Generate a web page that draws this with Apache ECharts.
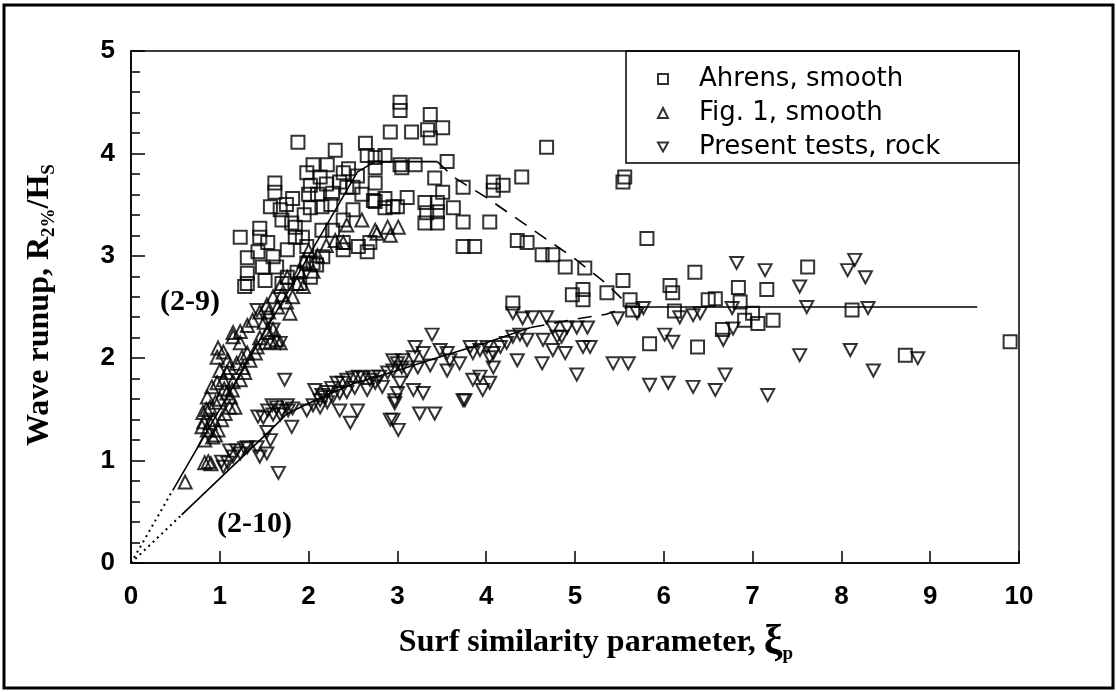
<!DOCTYPE html>
<html><head><meta charset="utf-8">
<script src="https://cdn.jsdelivr.net/npm/echarts@6/dist/echarts.min.js"></script>
<style>html,body{margin:0;padding:0;background:#fff}#c{width:1117px;height:692px}</style>
</head><body><div id="c"></div>
<script>
// ---- data ----
const legendNames = ['Ahrens, smooth', 'Fig. 1, smooth', 'Present tests, rock'];

const ahrensSmooth = [
[1.23,3.18],[1.31,2.98],[1.31,2.83],[1.31,2.73],[1.28,2.70],[1.43,3.04],[1.45,3.27],[1.45,3.18],[1.48,2.89],[1.51,2.76],
[1.54,3.13],[1.57,3.48],[1.60,2.99],[1.62,3.71],[1.62,3.62],[1.64,2.89],[1.68,3.45],[1.70,2.73],[1.70,3.35],[1.75,3.50],
[1.76,3.06],[1.76,2.79],[1.82,3.56],[1.81,3.32],[1.85,3.28],[1.85,3.18],[1.87,2.84],[1.88,4.11],[1.90,2.73],[1.93,3.18],
[1.95,3.40],[1.98,3.81],[1.98,3.09],[1.98,2.93],[2.00,3.60],[2.02,3.69],[2.02,3.47],[2.02,2.79],[2.05,3.89],[2.05,2.93],
[2.09,2.91],[2.10,3.60],[2.13,3.77],[2.15,3.48],[2.15,3.25],[2.16,2.99],[2.20,3.70],[2.21,3.89],[2.25,3.50],[2.27,3.61],
[2.27,3.25],[2.30,4.03],[2.35,3.72],[2.39,3.81],[2.39,3.35],[2.39,3.13],[2.39,3.06],[2.43,3.67],[2.45,3.85],[2.50,3.67],
[2.50,3.45],[2.55,3.78],[2.56,3.09],[2.60,3.60],[2.64,4.10],[2.66,3.98],[2.66,3.04],[2.69,3.13],[2.73,3.54],[2.75,3.96],
[2.75,3.86],[2.75,3.71],[2.75,3.53],[2.86,3.98],[2.86,3.56],[2.86,3.47],[2.92,4.21],[2.95,3.48],[3.00,3.48],[3.03,4.50],
[3.03,4.42],[3.03,3.89],[3.05,3.86],[3.11,3.57],[3.16,4.21],[3.20,3.89],[3.31,3.52],[3.31,3.32],[3.33,3.42],[3.34,4.23],
[3.37,4.38],[3.37,4.15],[3.42,3.76],[3.45,3.52],[3.45,3.43],[3.45,3.32],[3.51,4.25],[3.51,3.62],[3.56,3.92],[3.63,3.47],
[3.74,3.67],[3.74,3.33],[3.74,3.09],[3.87,3.09],[4.04,3.33],[4.08,3.72],[4.08,3.64],[4.19,3.69],[4.40,3.77],[4.35,3.15],
[4.46,3.13],[4.68,4.06],[4.63,3.01],[4.75,3.01],[4.89,2.89],[4.97,2.62],[5.09,2.67],[5.09,2.57],[5.11,2.88],[5.36,2.64],
[5.54,2.76],[5.56,3.77],[5.54,3.72],[5.81,3.17],[4.30,2.54],[5.62,2.57],[5.65,2.47],[5.84,2.14],[6.07,2.71],[6.10,2.64],
[6.12,2.46],[6.35,2.84],[6.38,2.11],[6.50,2.57],[6.58,2.58],[6.66,2.28],[6.84,2.69],[6.86,2.55],[6.91,2.37],[7.00,2.44],
[7.06,2.34],[7.16,2.67],[7.23,2.37],[7.62,2.89],[8.12,2.47],[8.72,2.03],[9.90,2.16]
];

const fig1Smooth = [
[0.61,0.79],[0.83,0.98],[0.87,0.99],[0.90,0.97],[0.80,1.33],[0.86,1.30],[0.89,1.37],[0.92,1.23],[0.83,1.20],[0.98,1.30],
[1.02,1.40],[1.06,1.46],[1.11,1.52],[0.81,1.47],[0.89,1.52],[0.95,1.57],[0.86,1.62],[0.91,1.72],[0.97,1.76],[1.04,1.79],
[1.00,1.88],[1.08,1.86],[1.11,1.91],[0.97,2.01],[1.04,2.06],[1.09,1.98],[0.98,2.10],[1.15,1.77],[1.14,1.69],[1.17,1.52],
[1.08,1.66],[1.15,2.21],[1.23,2.15],[1.31,2.05],[1.25,2.01],[1.19,1.95],[1.26,1.91],[1.34,1.98],[1.40,2.05],[1.42,2.11],
[1.28,1.86],[1.23,1.79],[1.53,2.25],[1.60,2.28],[1.64,2.18],[1.68,2.15],[1.45,2.20],[1.51,2.15],[1.57,2.16],[1.79,2.44],
[1.53,2.52],[1.60,2.60],[1.45,2.45],[1.37,2.37],[1.31,2.32],[1.23,2.26],[1.15,2.25],[1.68,2.70],[1.76,2.79],[1.87,2.73],
[1.94,2.70],[1.70,2.62],[1.75,2.55],[1.82,2.60],[1.90,2.85],[1.95,2.95],[2.00,3.05],[2.05,2.85],[2.10,3.00],[2.20,3.10],
[2.43,3.30],[2.75,3.25],[2.89,3.28],[3.01,3.28],[2.92,3.20],[2.39,3.13],[2.77,3.22],[2.30,3.15],[2.60,3.35],[1.50,2.35],
[1.55,2.45],[1.65,2.50],[0.93,1.40],[0.95,1.25],[1.00,1.60],[1.05,1.70],[0.85,1.50],[0.82,1.38],[1.12,1.62]
];

const presentRock = [
[1.66,0.88],[1.45,1.04],[1.53,1.07],[1.42,1.13],[1.04,0.94],[1.09,0.98],[1.15,1.04],[1.23,1.07],[1.19,1.10],[1.11,1.10],
[1.28,1.12],[1.31,1.13],[1.02,0.99],[1.57,1.20],[1.53,1.28],[1.43,1.43],[1.49,1.42],[1.54,1.49],[1.59,1.54],[1.64,1.52],
[1.70,1.49],[1.76,1.54],[1.68,1.45],[1.60,1.45],[1.81,1.33],[1.77,1.49],[1.82,1.51],[1.73,1.79],[1.98,1.49],[2.05,1.54],
[2.13,1.59],[2.15,1.64],[2.21,1.67],[2.26,1.71],[2.32,1.76],[2.38,1.76],[2.43,1.79],[2.50,1.81],[2.56,1.82],[2.61,1.81],
[2.69,1.79],[2.73,1.82],[2.80,1.82],[2.89,1.86],[2.95,1.88],[3.00,1.95],[3.05,1.91],[2.13,1.52],[2.21,1.57],[2.27,1.62],
[2.35,1.66],[2.43,1.67],[2.52,1.71],[2.47,1.37],[2.55,1.49],[2.35,1.49],[2.66,1.69],[2.75,1.76],[2.83,1.72],[2.95,1.40],
[3.01,1.30],[2.97,1.59],[3.00,1.66],[2.18,1.62],[2.07,1.69],[3.39,2.23],[3.20,2.11],[2.95,1.98],[3.06,1.98],[3.18,2.01],
[3.29,2.05],[3.37,1.93],[3.23,1.91],[3.11,1.88],[3.03,1.76],[3.18,1.69],[3.29,1.66],[2.97,1.56],[3.48,2.08],[3.56,2.05],
[3.59,1.98],[3.56,1.88],[3.70,1.95],[3.82,2.11],[3.85,2.05],[3.93,2.08],[4.01,2.11],[4.04,2.01],[4.08,1.91],[3.93,1.82],
[3.85,1.79],[3.96,1.69],[4.04,1.76],[3.74,1.59],[4.08,2.05],[4.16,2.11],[4.23,2.15],[4.30,2.21],[4.38,2.23],[4.46,2.18],
[4.30,2.44],[4.41,2.39],[4.52,2.40],[4.68,2.40],[4.75,2.30],[4.80,2.21],[4.91,2.30],[5.02,2.30],[5.14,2.30],[5.17,2.11],
[5.09,2.11],[4.85,2.21],[4.89,2.05],[4.75,2.08],[4.64,2.18],[4.35,1.98],[4.63,1.95],[5.02,1.84],[5.43,1.95],[5.60,1.95],
[5.48,2.39],[5.70,2.44],[5.77,2.49],[5.84,1.74],[6.05,1.76],[6.33,1.72],[6.58,1.69],[6.69,1.84],[6.01,2.23],[6.10,2.16],
[6.18,2.40],[6.33,2.42],[6.41,2.44],[6.67,2.18],[3.25,1.46],[3.42,1.46],[2.92,1.40],[3.76,1.59],[6.82,2.93],[7.14,2.86],
[8.15,2.96],[8.07,2.86],[8.27,2.79],[7.53,2.70],[7.61,2.50],[6.77,2.49],[8.30,2.49],[6.78,2.29],[7.53,2.03],[8.10,2.08],
[8.36,1.88],[8.86,2.00],[7.17,1.64],[1.42,2.47],[1.53,2.37],[1.68,2.15],[1.60,2.28]
];

// fitted curves as drawn in the figure
const eq29Dotted = [[0,0],[0.47,0.71]];
const eq29Solid = [[0.47,0.71],[2.55,3.82],[2.75,3.92],[3.45,3.92]];
const eq29Dashed = [[3.45,3.92],[3.63,3.77],[4.0,3.57],[4.5,3.27],[5.0,2.97],[5.35,2.73],[5.6,2.52]];
const eq210Dotted = [[0,0],[0.57,0.47]];
const eq210Solid = [[0.57,0.47],[1.55,1.28],[1.76,1.46],[2.1,1.60],[2.5,1.75],[3.0,1.88],[3.5,2.02],[4.0,2.15],[4.5,2.30]];
const eq210Dashed = [[4.5,2.30],[5.0,2.38],[5.35,2.43],[5.6,2.50]];
const plateauLine = [[5.6,2.50],[9.53,2.50]];

const xTickLabels = ['0','1','2','3','4','5','6','7','8','9','10'];
const yTickLabels = ['0','1','2','3','4','5'];

// ---- chart ----
const tickFont = "'Liberation Sans Narrow', 'Liberation Sans', sans-serif";
const legendFont = "'DejaVu Sans', sans-serif";
const serif = "'Liberation Serif', serif";
const downTri = 'path://M0,0 L10,0 L5,9 Z';
const hollow = { color: 'rgba(0,0,0,0)', borderColor: '#000', borderWidth: 2 };

function lineSeries(data, type, width) {
  return {
    type: 'line', data: data, symbol: 'none', silent: true, z: 1,
    lineStyle: { color: '#000', width: width || 1.6, type: type },
    legendHoverLink: false
  };
}

const chart = echarts.init(document.getElementById('c'));
chart.setOption({
  animation: false,
  backgroundColor: '#fff',
  grid: { left: 131, right: 98, top: 51, bottom: 129, show: true, borderColor: '#000', borderWidth: 1.5 },
  xAxis: {
    type: 'value', min: 0, max: 10, interval: 1,
    axisLine: { lineStyle: { color: '#000', width: 1.5 } },
    axisTick: { inside: true, length: 12, lineStyle: { color: '#000', width: 1.5 } },
    axisLabel: { color: '#000', fontFamily: tickFont, fontWeight: 'bold', fontSize: 26, margin: 21,
      formatter: v => xTickLabels[Math.round(v)] },
    splitLine: { show: false }
  },
  yAxis: {
    type: 'value', min: 0, max: 5, interval: 1,
    axisLine: { lineStyle: { color: '#000', width: 1.5 } },
    axisTick: { inside: true, length: 14, lineStyle: { color: '#000', width: 1.5 } },
    minorTick: { show: true, splitNumber: 5, length: 9, lineStyle: { color: '#000', width: 1.5 } },
    axisLabel: { color: '#000', fontFamily: tickFont, fontWeight: 'bold', fontSize: 26, margin: 16,
      formatter: v => yTickLabels[Math.round(v)] },
    splitLine: { show: false }, minorSplitLine: { show: false }
  },
  legend: {
    data: legendNames, orient: 'vertical', left: 652, top: 61,
    itemWidth: 10, itemHeight: 10, itemGap: 8,
    textStyle: { color: '#000', fontFamily: legendFont, fontSize: 26, padding: [0, 0, 0, 26] },
    selectedMode: false
  },
  series: [
    lineSeries(eq29Dotted, [2, 4], 2),
    lineSeries(eq29Solid, 'solid'),
    lineSeries(eq29Dashed, [14, 10]),
    lineSeries(eq210Dotted, [2, 4], 2),
    lineSeries(eq210Solid, 'solid'),
    lineSeries(eq210Dashed, [14, 10]),
    lineSeries(plateauLine, 'solid'),
    { name: legendNames[0], type: 'scatter', data: ahrensSmooth, symbol: 'rect', symbolSize: 13, itemStyle: hollow, z: 3 },
    { name: legendNames[1], type: 'scatter', data: fig1Smooth, symbol: 'triangle', symbolSize: 13, itemStyle: hollow, z: 3 },
    { name: legendNames[2], type: 'scatter', data: presentRock, symbol: downTri, symbolSize: [13, 12], itemStyle: hollow, z: 3 }
  ],
  graphic: [
    { type: 'rect', shape: { x: 4, y: 5, width: 1109, height: 683 }, style: { fill: 'none', stroke: '#000', lineWidth: 3 }, silent: true },
    { type: 'rect', shape: { x: 626, y: 51, width: 393, height: 112 }, style: { fill: 'none', stroke: '#000', lineWidth: 1.5 }, silent: true },
    { type: 'text', x: 160, y: 302, style: { text: '(2-9)', fontFamily: serif, fontWeight: 'bold', fontSize: 30, fill: '#000', verticalAlign: 'middle' } },
    { type: 'text', x: 217, y: 524, style: { text: '(2-10)', fontFamily: serif, fontWeight: 'bold', fontSize: 30, fill: '#000', verticalAlign: 'middle' } },
    { type: 'text', x: 40, y: 305, rotation: Math.PI / 2,
      style: { text: '{a|Wave runup, R}{s|2%}{a|/H}{s|S}', align: 'center', verticalAlign: 'middle', fill: '#000',
        rich: {
          a: { fontFamily: serif, fontWeight: 'bold', fontSize: 32, lineHeight: 38, fill: '#000' },
          s: { fontFamily: serif, fontWeight: 'bold', fontSize: 19, lineHeight: 19, verticalAlign: 'bottom', fill: '#000' }
        } } },
    { type: 'text', x: 596, y: 643,
      style: { text: '{a|Surf similarity parameter, }{x|ξ}{s|p}', align: 'center', verticalAlign: 'middle', fill: '#000',
        rich: {
          a: { fontFamily: serif, fontWeight: 'bold', fontSize: 32, lineHeight: 42, fill: '#000' },
          x: { fontFamily: serif, fontWeight: 'bold', fontSize: 42, lineHeight: 42, fill: '#000' },
          s: { fontFamily: serif, fontWeight: 'bold', fontSize: 19, lineHeight: 19, verticalAlign: 'bottom', fill: '#000' }
        } } }
  ]
});
</script>
</body></html>
